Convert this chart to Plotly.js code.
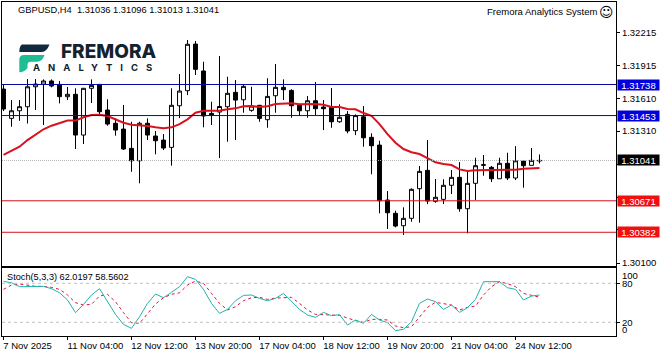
<!DOCTYPE html>
<html>
<head>
<meta charset="utf-8">
<script src="https://cdn.plot.ly/plotly-3.0.1.min.js"></script>
<style>html,body{margin:0;padding:0;background:#fff;overflow:hidden}</style>
</head>
<body>
<div id="chart" style="width:662px;height:357px"></div>
<script>
const candleIndex = Array.from({length: 68}, (_, i) => i);
const openPrices = [
1.31696,1.31427,1.31497,1.31534,1.31717,1.31742,1.31770,1.31739,1.31626,1.31648,
1.31274,1.31703,1.31739,1.31504,1.31382,1.31329,1.31152,1.31038,1.31382,1.31265,
1.31228,1.31161,1.31543,1.31681,1.32109,1.31862,1.31473,1.31485,1.31534,1.31666,
1.31598,1.31501,1.31547,1.31415,1.31635,1.31712,1.31684,1.31550,1.31497,1.31589,
1.31531,1.31528,1.31396,1.31464,1.31314,1.31442,1.31253,1.31182,1.30678,1.30556,
1.30442,1.30510,1.30782,1.30950,1.30666,1.30684,1.30813,1.30886,1.30598,1.30831,
1.30996,1.30978,1.30873,1.31015,1.30880,1.31036,1.30996,1.31036];
const highPrices = [
1.31733,1.31595,1.31595,1.31788,1.31788,1.31785,1.31785,1.31770,1.31715,1.31703,
1.31706,1.31785,1.31742,1.31602,1.31430,1.31550,1.31396,1.31396,1.31427,1.31311,
1.31283,1.31703,1.31834,1.32146,1.32137,1.31947,1.31580,1.31999,1.31809,1.31779,
1.31733,1.31717,1.31550,1.31795,1.31926,1.31785,1.31694,1.31559,1.31632,1.31761,
1.31595,1.31706,1.31556,1.31494,1.31464,1.31540,1.31290,1.31222,1.30760,1.30580,
1.30611,1.30785,1.30990,1.31228,1.30871,1.30868,1.30953,1.31026,1.30937,1.31066,
1.31091,1.30990,1.31066,1.31112,1.31173,1.31036,1.31155,1.31096];
const lowPrices = [
1.31494,1.31350,1.31405,1.31380,1.31504,1.31366,1.31712,1.31565,1.31595,1.31146,
1.31192,1.31568,1.31449,1.31360,1.31268,1.31137,1.30937,1.30831,1.31228,1.31097,
1.31137,1.30993,1.31430,1.31641,1.31825,1.31345,1.31366,1.31063,1.31213,1.31228,
1.31479,1.31488,1.31396,1.31341,1.31479,1.31595,1.31433,1.31449,1.31433,1.31458,
1.31320,1.31341,1.31387,1.31290,1.31274,1.31167,1.30914,1.30556,1.30412,1.30427,
1.30357,1.30479,1.30470,1.30641,1.30653,1.30641,1.30733,1.30570,1.30372,1.30678,
1.30901,1.30843,1.30873,1.30861,1.30861,1.30791,1.30996,1.31013];
const closePrices = [
1.31513,1.31497,1.31534,1.31717,1.31742,1.31770,1.31724,1.31626,1.31648,1.31274,
1.31703,1.31730,1.31488,1.31375,1.31320,1.31146,1.31038,1.31382,1.31274,1.31222,
1.31155,1.31547,1.31678,1.32107,1.31877,1.31449,1.31458,1.31536,1.31657,1.31595,
1.31721,1.31540,1.31427,1.31629,1.31712,1.31690,1.31543,1.31497,1.31589,1.31516,
1.31516,1.31396,1.31437,1.31311,1.31453,1.31249,1.31176,1.30671,1.30561,1.30439,
1.30510,1.30776,1.30941,1.30669,1.30703,1.30813,1.30886,1.30598,1.30831,1.30993,
1.31002,1.30873,1.31015,1.30880,1.31038,1.30993,1.31042,1.31041];
const movingAverage = [
1.31093,1.31130,1.31167,1.31228,1.31274,1.31327,1.31360,1.31387,1.31407,1.31407,
1.31437,1.31458,1.31461,1.31449,1.31418,1.31387,1.31369,1.31366,1.31357,1.31345,
1.31336,1.31345,1.31375,1.31418,1.31479,1.31497,1.31494,1.31497,1.31510,1.31519,
1.31538,1.31540,1.31531,1.31538,1.31559,1.31565,1.31565,1.31556,1.31559,1.31559,
1.31552,1.31531,1.31531,1.31513,1.31510,1.31476,1.31451,1.31375,1.31283,1.31204,
1.31146,1.31116,1.31100,1.31060,1.31024,1.31008,1.30999,1.30959,1.30944,1.30950,
1.30950,1.30953,1.30953,1.30953,1.30956,1.30965,1.30965,1.30971];
const stochMain = [
83.0,80.9,74.8,75.3,75.3,75.3,71.7,65.5,54.3,34.8,
47.6,62.0,71.7,51.7,32.2,16.8,10.7,28.6,49.1,63.5,
57.8,66.1,74.8,90.2,86.1,70.7,49.1,33.8,39.9,53.2,
61.4,62.0,56.8,53.2,56.8,64.5,51.7,39.9,31.2,27.6,
35.3,30.2,31.7,15.8,23.5,18.4,32.2,23.5,19.4,7.1,
9.1,20.9,49.1,55.8,51.7,39.9,46.6,35.3,42.5,55.3,
82.5,82.5,82.5,73.2,70.7,54.3,60.4,62.02];
const stochSignal = [
70.7,77.3,78.9,76.8,75.3,75.3,73.7,70.7,62.0,50.2,
46.6,47.6,60.4,63.0,51.7,34.8,19.4,18.4,33.8,48.1,
57.8,63.0,65.5,77.3,83.5,79.9,64.5,49.1,38.9,44.0,
53.2,57.8,58.4,55.3,57.3,58.4,58.4,49.1,38.9,32.2,
31.2,31.2,30.7,26.1,22.5,19.9,24.5,24.5,23.5,14.3,
11.7,13.2,28.6,43.0,50.7,49.1,46.6,38.9,43.0,45.0,
62.0,74.8,82.5,79.4,74.8,64.5,61.4,58.56];
const priceTickVals = [1.32215,1.31915,1.31610,1.31310,1.31005,1.30705,1.30405,1.30100];
const priceTickText = ["1.32215","1.31915","1.31610","1.31310","","","","1.30100"];
const dateTickVals = [0,8,16,24,32,40,48,56,64];
const dateTickText = ["7 Nov 2025\u00a0\u00a0\u00a0","11 Nov 04:00","12 Nov 12:00","13 Nov 20:00","17 Nov 04:00","18 Nov 12:00","19 Nov 20:00","21 Nov 04:00","24 Nov 12:00"];
const resistanceLevels = [1.31738,1.31453];
const supportLevels = [1.30671,1.30382];
const lastPrice = 1.31041;
const stochLevels = [80,20];

const FONT = '"Liberation Sans", Arial, sans-serif';
const W = 662, H = 357, ML = 2, MR = 46, MT = 2, MB = 21;
const px = v => (v - ML) / (W - ML - MR);
const py = v => 1 - (v - MT) / (H - MT - MB);
const hline = (y, color, dash, yref) => ({type:'line', xref:'paper', x0:0, x1:1, yref:yref||'y', y0:y, y1:y, layer:'above', line:{color:color, width:1, dash:dash||'solid'}});
const flag = (y, text, bg) => ({xref:'paper', x:px(638.5), yref:'y', y:y, xanchor:'center', yanchor:'middle', text:text, showarrow:false, bgcolor:bg, width:41, height:10, borderpad:0, font:{family:FONT, size:9.5, color:'#fff'}});
const label = (x, y, text, size, extra) => Object.assign({xref:'paper', yref:'paper', x:px(x), y:py(y), xanchor:'left', yanchor:'middle', text:text, showarrow:false, font:{family:FONT, size:size, color:'#000'}}, extra||{});

const traces = [
  {type:'candlestick', x:candleIndex, open:openPrices, high:highPrices, low:lowPrices, close:closePrices, xaxis:'x', yaxis:'y',
   increasing:{line:{color:'#000', width:1}, fillcolor:'#fff'}, decreasing:{line:{color:'#000', width:1}, fillcolor:'#000'}, whiskerwidth:0, hoverinfo:'skip', showlegend:false},
  {type:'scatter', mode:'lines', x:candleIndex, y:movingAverage, xaxis:'x', yaxis:'y', line:{color:'#d8121e', width:2}, hoverinfo:'skip', showlegend:false},
  {type:'scatter', mode:'lines', x:candleIndex, y:stochSignal, xaxis:'x2', yaxis:'y2', line:{color:'#dc143c', width:1, dash:'3px,3px'}, hoverinfo:'skip', showlegend:false},
  {type:'scatter', mode:'lines', x:candleIndex, y:stochMain, xaxis:'x2', yaxis:'y2', line:{color:'#20b2aa', width:1}, hoverinfo:'skip', showlegend:false}
];

const xRange = [-0.1875, 76.5625];
const layout = {
  width:W, height:H, margin:{l:ML, r:MR, t:MT, b:MB, pad:0}, paper_bgcolor:'#fff', plot_bgcolor:'#fff', showlegend:false, dragmode:false,
  xaxis:{domain:[0,1], range:xRange, anchor:'y', rangeslider:{visible:false}, showticklabels:false, ticks:'', showgrid:false, zeroline:false, showline:true, mirror:true, linecolor:'#000', linewidth:1},
  yaxis:{domain:[py(266),1], range:[1.300725,1.32495], side:'right', anchor:'x', tickmode:'array', tickvals:priceTickVals, ticktext:priceTickText, ticks:'outside', ticklen:3, tickcolor:'#000', showgrid:false, zeroline:false, showline:true, mirror:true, linecolor:'#000', linewidth:1, tickfont:{family:FONT, size:9.5, color:'#000'}},
  xaxis2:{domain:[0,1], range:xRange, anchor:'y2', tickmode:'array', tickvals:dateTickVals, ticktext:dateTickText, ticklabelshift:28, ticklabelstandoff:-2, ticks:'outside', ticklen:3, tickcolor:'#000', showgrid:false, zeroline:false, showline:true, mirror:true, linecolor:'#000', linewidth:1, tickfont:{family:FONT, size:9.5, color:'#000'}},
  yaxis2:{domain:[0,py(268.3)], range:[-1.1,103.1], side:'right', anchor:'x2', tickmode:'array', tickvals:stochLevels, ticktext:stochLevels.map(String), ticks:'outside', ticklen:3, tickcolor:'#000', showgrid:false, zeroline:false, showline:true, mirror:true, linecolor:'#000', linewidth:1, tickfont:{family:FONT, size:9.5, color:'#000'}},
  shapes:[
    ...resistanceLevels.map(v => hline(v, '#0a0aa0')),
    ...supportLevels.map(v => hline(v, '#d1121c')),
    hline(lastPrice, '#b4b4b4', '1px,1px'),
    ...stochLevels.map(v => hline(v, '#c0c0c0', '3px,3px', 'y2')),
    {type:'path', xref:'paper', yref:'paper', layer:'above', line:{width:0}, fillcolor:'#10293d',
     path:`M ${px(22)} ${py(44.5)} L ${px(49.5)} ${py(44.5)} Q ${px(46.5)} ${py(52)} ${px(42)} ${py(52)} L ${px(19.3)} ${py(52)} Q ${px(19.3)} ${py(46)} ${px(22)} ${py(44.5)} Z`},
    {type:'path', xref:'paper', yref:'paper', layer:'above', line:{width:0}, fillcolor:'#1fbd94',
     path:`M ${px(24)} ${py(55)} L ${px(44.5)} ${py(55)} Q ${px(42.5)} ${py(61.7)} ${px(37)} ${py(61.7)} L ${px(31)} ${py(61.7)} Q ${px(27.5)} ${py(61.7)} ${px(27.5)} ${py(65)} L ${px(27.5)} ${py(68)} Q ${px(24)} ${py(72.3)} ${px(19.3)} ${py(72.3)} L ${px(19.3)} ${py(60)} Q ${px(19.3)} ${py(55)} ${px(24)} ${py(55)} Z`}
  ],
  annotations:[
    label(16, 10.5, 'GBPUSD,H4&nbsp;&nbsp;1.31036 1.31096 1.31013 1.31041', 9.3),
    label(485, 11.5, 'Fremora Analytics System', 9.5),
    label(596.5, 11.5, '☺', 14, {font:{family:'"DejaVu Sans"', size:14, color:'#000'}}),
    label(5, 277, 'Stoch(5,3,3) 62.0197 58.5602', 9.2),
    label(58.5, 51, 'FREMORA', 19, {font:{family:'Inter, "Open Sans", sans-serif', size:19, color:'#14222f', weight:800}}),
    label(67, 67, 'ANALYTICS', 9.5, {font:{family:'Inter, "Open Sans", sans-serif', size:9.5, color:'#14222f', weight:700}}),
    label(620, 275.3, '100', 9.5),
    label(620, 329.7, '0', 9.5),
    flag(resistanceLevels[0], resistanceLevels[0].toFixed(5), '#0000dc'),
    flag(resistanceLevels[1], resistanceLevels[1].toFixed(5), '#0000dc'),
    flag(lastPrice, lastPrice.toFixed(5), '#000'),
    flag(supportLevels[0], supportLevels[0].toFixed(5), '#f01010'),
    flag(supportLevels[1], supportLevels[1].toFixed(5), '#f01010')
  ]
};
Plotly.newPlot('chart', traces, layout, {displayModeBar:false, staticPlot:true}).then(() => {
  document.querySelectorAll('.annotation-text').forEach(t => {
    if (t.textContent === 'ANALYTICS') t.style.letterSpacing = '8px';
  });
});
</script>
</body>
</html>
